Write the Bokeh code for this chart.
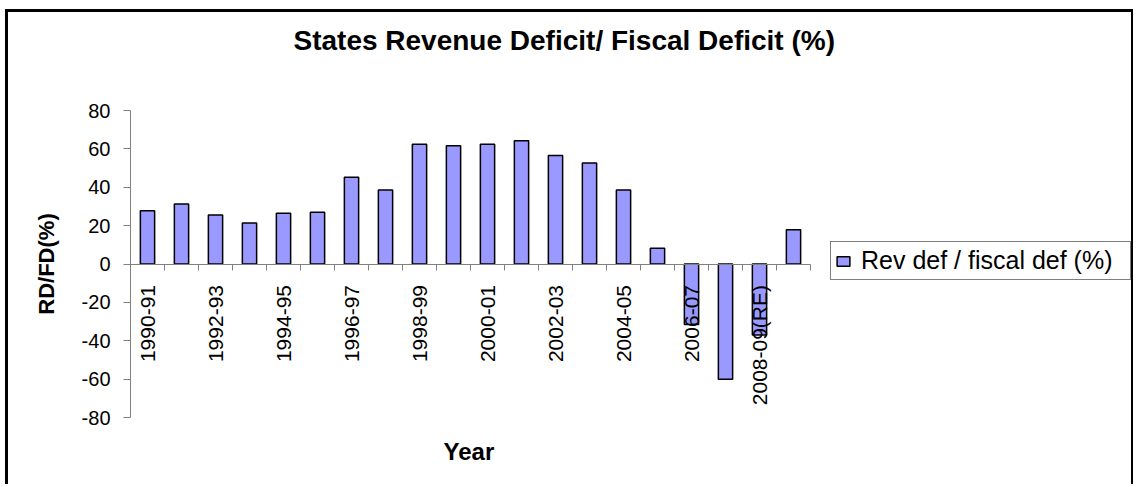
import numpy as np
from bokeh.plotting import figure
from bokeh.models import (ColumnDataSource, Range1d, LinearAxis, FixedTicker,
                          Legend, LegendItem, Title)
from bokeh.core.properties import value
from bokeh.embed import file_html
from bokeh.resources import INLINE

# ---- data ----
years = ["1990-91", "1991-92", "1992-93", "1993-94", "1994-95", "1995-96",
         "1996-97", "1997-98", "1998-99", "1999-00", "2000-01", "2001-02",
         "2002-03", "2003-04", "2004-05", "2005-06", "2006-07", "2007-08",
         "2008-09(RE)", "2009-10(BE)"]
rd_fd = [27.8, 31.3, 25.6, 21.4, 26.4, 27.0, 45.2, 38.6, 62.4, 61.6,
         62.4, 64.2, 56.5, 52.7, 38.6, 8.2, -31.5, -60.0, -37.0, 17.9]
shown_labels = years[::2]
y_ticks = [-80, -60, -40, -20, 0, 20, 40, 60, 80]

title_text = "States Revenue Deficit/ Fiscal Deficit (%)"
series_name = "Rev def / fiscal def (%)"
x_title = "Year"
y_title = "RD/FD(%)"

FONT = "Liberation Sans"
AXIS_GRAY = "#808080"

n = len(years)
idx = np.arange(n)
src = ColumnDataSource(dict(x=idx + 0.5, top=rd_fd, year=years))
lab_src = ColumnDataSource(dict(x=idx[::2] + 0.5,
                                y=np.zeros(len(shown_labels)),
                                text=shown_labels))

# layout: the plot frame also hosts the legend area to the right of the bars
CANVAS_W, CANVAS_H = 1128, 475
LEFT, RIGHT, TOP, BOTTOM = 122, 2, 98, 70
BAR_AREA_W = 680
frame_w = CANVAS_W - LEFT - RIGHT
x_end = n * frame_w / BAR_AREA_W

p = figure(width=CANVAS_W, height=CANVAS_H, output_backend="svg", toolbar_location=None,
           title=None,
           x_range=Range1d(0, x_end), y_range=Range1d(y_ticks[0], y_ticks[-1]),
           x_axis_type=None,
           min_border_left=LEFT, min_border_right=RIGHT,
           min_border_top=TOP, min_border_bottom=BOTTOM)
p.margin = (9, 0, 0, 5)
p.styles = {"border-top": "3px solid black", "border-left": "3px solid black",
            "border-right": "2px solid black"}
p.outline_line_color = None
p.background_fill_color = "white"
p.border_fill_color = "white"
p.ygrid.visible = False

# title (a blank spacer title sits between the frame and the real title)
spacer = Title(text=" ", text_font=FONT, text_font_size="10px", standoff=40)
p.add_layout(spacer, "above")
ttl = Title(text=title_text, align="left", offset=163, vertical_align="top",
            standoff=0, text_font=FONT, text_font_size="28px",
            text_font_style="bold", text_color="black")
p.add_layout(ttl, "above")

# y axis
ya = p.yaxis[0]
ya.ticker = FixedTicker(ticks=y_ticks)
ya.major_label_overrides = {t: str(t) for t in y_ticks}
ya.axis_label = y_title
ya.axis_label_text_font = FONT
ya.axis_label_text_font_size = "22px"
ya.axis_label_text_font_style = "bold"
ya.axis_label_text_color = "black"
ya.axis_label_standoff = 20
ya.major_label_text_font = FONT
ya.major_label_text_font_size = "20px"
ya.major_label_text_color = "black"
ya.major_label_standoff = 13
ya.major_tick_in = 0
ya.major_tick_out = 7
ya.minor_tick_line_color = None
ya.axis_line_color = AXIS_GRAY
ya.major_tick_line_color = AXIS_GRAY

# bars
bars = p.vbar(x="x", top="top", bottom=0, width=0.42, source=src,
              fill_color="#9999FF", line_color="black", line_width=1.5)

# zero axis with category boundary ticks
zaxis = LinearAxis(fixed_location=0, bounds=(0, n),
                   ticker=FixedTicker(ticks=list(range(n + 1))),
                   major_tick_in=0, major_tick_out=6,
                   minor_tick_line_color=None,
                   major_label_text_color=None,
                   major_label_text_font_size="1px",
                   axis_line_color=AXIS_GRAY, major_tick_line_color=AXIS_GRAY)
p.add_layout(zaxis, "below")

# x title, centred under the bars
xt = Title(text=x_title, align="left", offset=313, vertical_align="top",
           standoff=40, text_font=FONT, text_font_size="24px",
           text_font_style="bold", text_color="black")
p.add_layout(xt, "below")

# category labels (every other year), rotated
p.text(x="x", y="y", text="text", source=lab_src, angle=np.pi / 2,
       text_align="right", text_baseline="alphabetic", y_offset=21,
       text_font=value(FONT), text_font_size="21px", text_color="black")

# legend
legend = Legend(items=[LegendItem(label=series_name, renderers=[bars])],
                location=(700, 137), orientation="vertical",
                border_line_color="black", border_line_width=1,
                background_fill_color="white", background_fill_alpha=1,
                padding=4, margin=0, spacing=0,
                glyph_width=16, glyph_height=12, label_standoff=10,
                label_width=265,
                label_text_font=FONT, label_text_font_size="25px",
                label_text_color="black")
p.add_layout(legend)

open("out.html", "w").write(file_html(p, INLINE))
